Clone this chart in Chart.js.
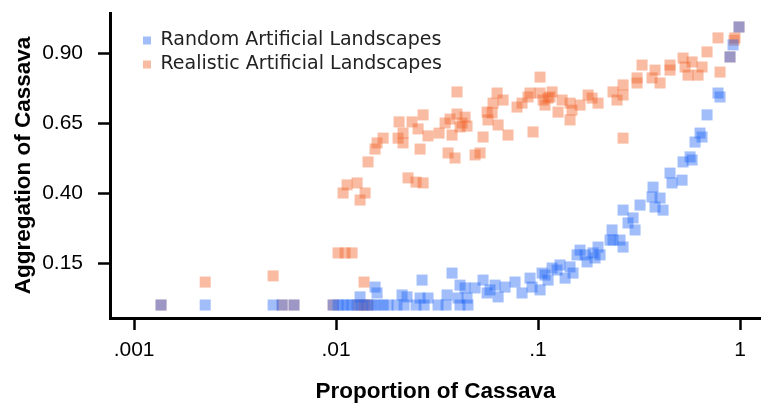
<!DOCTYPE html>
<html>
<head>
<meta charset="utf-8">
<script src="https://cdn.jsdelivr.net/npm/chart.js@4"></script>
<style>
  body { margin: 0; background: #fff; }
  #wrap { width: 761px; height: 405px; }
</style>
</head>
<body>
<div id="wrap"><canvas id="cassavaChart" width="761" height="405"></canvas></div>
<script>
// tick values and labels
const xTicks = [0.001, 0.01, 0.1, 1];
const xTickLabels = ['.001', '.01', '.1', '1'];
const yTicks = [0.15, 0.40, 0.65, 0.90];
const yTickLabels = ['0.15', '0.40', '0.65', '0.90'];

// Random Artificial Landscapes
const randomX = [
  0.00136, 0.00225, 0.00488, 0.00541, 0.00619, 0.00967, 0.01023, 0.01083, 0.01134, 0.0120,
  0.01271, 0.01345, 0.01424, 0.01507, 0.01596, 0.0171, 0.01808, 0.02004, 0.02171, 0.02489,
  0.02728, 0.03198, 0.03505, 0.04109, 0.045,
  0.01315, 0.0156, 0.01596, 0.02122, 0.02246, 0.02666, 0.02606, 0.02853, 0.03545, 0.03752,
  0.04016, 0.04109, 0.0435, 0.0445, 0.04878, 0.05342, 0.05594, 0.06127, 0.05786, 0.06342,
  0.06866, 0.07692, 0.08331, 0.09128, 0.0934, 0.1023, 0.1047, 0.1083, 0.1121, 0.1174,
  0.1242, 0.1285, 0.1361, 0.144, 0.149, 0.156, 0.1614, 0.1709, 0.1749, 0.1872,
  0.1915, 0.1982, 0.2028, 0.2272, 0.2325, 0.2351, 0.2547, 0.2636, 0.2636, 0.279,
  0.2954, 0.3022, 0.3199, 0.3667, 0.371, 0.3796, 0.4019, 0.4158, 0.4502, 0.4606,
  0.5164, 0.5223, 0.5659, 0.5791, 0.5988, 0.6339, 0.6486, 0.6866, 0.778, 0.7961,
  0.8923, 0.9233, 0.9887
];
const randomY = [
  0, 0, 0, 0, 0, 0, 0, 0, 0, 0,
  0, 0, 0, 0, 0, 0, 0, 0, 0, 0,
  0, 0, 0, 0, 0,
  0.029, 0.064, 0.043, 0.036, 0.029, 0.089, 0.025, 0.025, 0.036, 0.114,
  0.025, 0.071, 0.061, 0.025, 0.061, 0.089, 0.043, 0.071, 0.054, 0.029,
  0.064, 0.082, 0.043, 0.096, 0.064, 0.054, 0.114, 0.107, 0.089, 0.132,
  0.125, 0.143, 0.096, 0.136, 0.114, 0.179, 0.196, 0.179, 0.154, 0.186,
  0.168, 0.207, 0.179, 0.232, 0.268, 0.232, 0.232, 0.207, 0.339, 0.293,
  0.311, 0.268, 0.357, 0.386, 0.421, 0.350, 0.382, 0.339, 0.471, 0.436,
  0.446, 0.511, 0.529, 0.518, 0.582, 0.614, 0.600, 0.679, 0.757, 0.743,
  0.886, 0.929, 0.993
];

// Realistic Artificial Landscapes
const realisticX = [
  0.00136, 0.00541, 0.00619, 0.00967, 0.01285, 0.01376, 0.0144,
  0.00225, 0.00488, 0.01023, 0.01109, 0.0120, 0.01376,
  0.0144, 0.01134, 0.01271, 0.01083, 0.01392, 0.01315, 0.02272, 0.02489, 0.02697,
  0.0156, 0.01596, 0.0171, 0.02028, 0.02146, 0.02146, 0.02051, 0.02378, 0.02547, 0.02697,
  0.02853, 0.02606, 0.03235, 0.03465, 0.03667, 0.0397, 0.0435, 0.04204, 0.0445, 0.04109,
  0.03752, 0.05342, 0.03585, 0.03881, 0.04878, 0.05164, 0.0397, 0.0627, 0.05988, 0.05594,
  0.0592, 0.05654, 0.06713, 0.06342, 0.07103, 0.0787, 0.08331, 0.08921, 0.09128, 0.1023,
  0.09448, 0.1023, 0.1174, 0.1059, 0.1121, 0.1083, 0.1147, 0.1315, 0.1256, 0.144,
  0.1473, 0.1614, 0.144, 0.1769, 0.1851, 0.1982, 0.2351, 0.2461, 0.2636, 0.2636,
  0.2636, 0.3092, 0.3092, 0.3273, 0.3667, 0.3796, 0.4019, 0.4502, 0.4502, 0.5223,
  0.5344, 0.5791, 0.553, 0.6195, 0.6486, 0.6866, 0.778, 0.7961, 0.9446, 0.9339,
  0.8923, 0.9887
];
const realisticY = [
  0, 0, 0, 0, 0, 0, 0,
  0.082, 0.104, 0.186, 0.186, 0.186, 0.082,
  0.511, 0.429, 0.436, 0.400, 0.400, 0.375, 0.454, 0.439, 0.436,
  0.557, 0.579, 0.596, 0.596, 0.579, 0.614, 0.654, 0.654, 0.629, 0.679,
  0.604, 0.557, 0.614, 0.650, 0.664, 0.682, 0.671, 0.650, 0.639, 0.636,
  0.607, 0.600, 0.543, 0.525, 0.536, 0.543, 0.761, 0.757, 0.721, 0.689,
  0.686, 0.661, 0.732, 0.643, 0.607, 0.707, 0.721, 0.743, 0.757, 0.814,
  0.618, 0.757, 0.761, 0.732, 0.739, 0.714, 0.743, 0.732, 0.689, 0.721,
  0.696, 0.714, 0.661, 0.750, 0.739, 0.721, 0.761, 0.732, 0.786, 0.750,
  0.596, 0.811, 0.793, 0.857, 0.811, 0.839, 0.793, 0.839, 0.857, 0.882,
  0.850, 0.868, 0.821, 0.821, 0.850, 0.904, 0.954, 0.832, 0.954, 0.946,
  0.886, 0.993
];

const toPoints = (xs, ys) => xs.map((x, i) => ({ x: x, y: ys[i] }));

// put the legend inside the plot, top left
const legendSpot = {
  id: 'legendSpot',
  afterLayout(chart) {
    chart.legend.left = 138;
    chart.legend.top = 26;
  }
};

// keep the plot area fixed: no extra room for the end labels
const noEdgePad = s => {
  s.paddingTop = 0;
  s.paddingBottom = 0;
  s.paddingLeft = 0;
  s.paddingRight = 0;
};

const ctx = document.getElementById('cassavaChart').getContext('2d');
Chart.defaults.font.family = '"Liberation Sans", Arial, sans-serif';
Chart.defaults.color = '#000';

new Chart(ctx, {
  type: 'scatter',
  data: {
    datasets: [{
      label: 'Random Artificial Landscapes',
      data: toPoints(randomX, randomY),
      backgroundColor: 'rgba(30,100,245,0.42)',
      borderWidth: 0,
      pointStyle: 'rect',
      pointRadius: 7.8,
      pointHoverRadius: 7.8
    }, {
      label: 'Realistic Artificial Landscapes',
      data: toPoints(realisticX, realisticY),
      backgroundColor: 'rgba(241,95,35,0.42)',
      borderWidth: 0,
      pointStyle: 'rect',
      pointRadius: 7.8,
      pointHoverRadius: 7.8
    }]
  },
  plugins: [legendSpot],
  options: {
    responsive: false,
    animation: false,
    layout: { autoPadding: false, padding: { top: 13, right: 0, left: 0, bottom: 0 } },
    scales: {
      x: {
        type: 'logarithmic',
        min: 0.00076,
        max: 1.27,
        afterBuildTicks: s => { s.ticks = xTicks.map(v => ({ value: v })); },
        afterFit: s => { s.height = 87; noEdgePad(s); },
        ticks: {
          callback: (v, i) => xTickLabels[i],
          autoSkip: false,
          maxRotation: 0,
          padding: 8,
          color: '#000',
          font: { size: 21 }
        },
        grid: { drawOnChartArea: false, drawTicks: true, tickLength: 12, tickWidth: 2.5, tickColor: '#000' },
        border: { display: true, color: '#000', width: 3 },
        title: {
          display: true,
          text: 'Proportion of Cassava',
          color: '#000',
          font: { size: 22.5, weight: 'bold' },
          padding: { top: 0, bottom: 0 }
        }
      },
      y: {
        min: -0.0464,
        max: 1.0429,
        afterBuildTicks: s => { s.ticks = yTicks.map(v => ({ value: v })); },
        afterFit: s => { s.width = 110; noEdgePad(s); },
        ticks: {
          callback: (v, i) => yTickLabels[i],
          padding: 15,
          color: '#000',
          font: { size: 21 }
        },
        grid: { drawOnChartArea: false, drawTicks: true, tickLength: 12, tickWidth: 2.5, tickColor: '#000' },
        border: { display: true, color: '#000', width: 3 },
        title: {
          display: true,
          text: 'Aggregation of Cassava',
          color: '#000',
          font: { size: 22.5, weight: 'bold' },
          padding: { top: 10, bottom: 0 }
        }
      }
    },
    plugins: {
      legend: {
        position: 'chartArea',
        align: 'start',
        labels: {
          boxWidth: 8,
          boxHeight: 8,
          padding: 5,
          color: '#222',
          font: { family: '"DejaVu Sans", sans-serif', size: 19 }
        }
      },
      tooltip: { enabled: false }
    }
  }
});
</script>
</body>
</html>
